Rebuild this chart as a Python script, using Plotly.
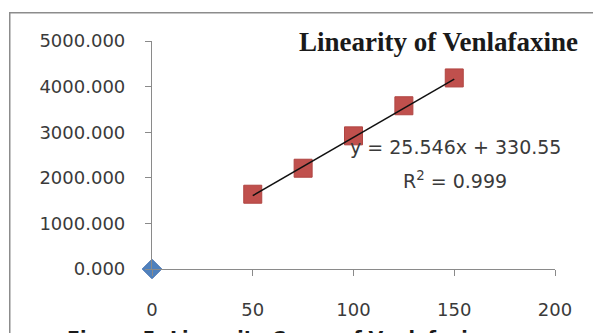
import plotly.graph_objects as go

# ---- data ----
conc = [50, 75, 100, 125, 150]
area = [1640, 2210, 2920, 3580, 4190]
blank_x = [0]
blank_y = [0]
slope = 25.546
intercept = 330.55
x_ticks = [0, 50, 100, 150, 200]
y_ticks = [0, 1000, 2000, 3000, 4000, 5000]
y_tick_labels = ["0.000", "1000.000", "2000.000", "3000.000", "4000.000", "5000.000"]
title_text = "Linearity of Venlafaxine"
eq_text = "y = 25.546x + 330.55"
r2_text = "R<sup>2</sup> = 0.999"
caption_text = "Figure 5: Linearity Curve of Venlafaxine"

trend_x = [min(conc), max(conc)]
trend_y = [slope * v + intercept for v in trend_x]

fig = go.Figure()
fig.add_trace(go.Scatter(x=blank_x, y=blank_y, mode="markers",
                         marker=dict(symbol="diamond", size=15, color="#4F81BD",
                                     line=dict(color="#4672B0", width=1)),
                         cliponaxis=False, showlegend=False))
fig.add_trace(go.Scatter(x=conc, y=area, mode="markers",
                         marker=dict(symbol="square", size=18, color="#C0504D",
                                     line=dict(color="#B04542", width=1)),
                         cliponaxis=False, showlegend=False))
fig.add_trace(go.Scatter(x=trend_x, y=trend_y, mode="lines",
                         line=dict(color="#111111", width=1.5),
                         showlegend=False))

tick_font = dict(family="DejaVu Sans", size=18, color="#3a3a3a")
axis_common = dict(showgrid=False, zeroline=False, showline=True,
                   linecolor="#8a8a8a", linewidth=1.2, ticks="outside",
                   tickcolor="#8a8a8a", ticklen=6, tickwidth=1.2,
                   tickfont=tick_font, automargin=False)

fig.update_xaxes(range=[0, 200], tickvals=x_ticks, ticktext=[str(v) for v in x_ticks],
                 ticklabelstandoff=18, **axis_common)
fig.update_yaxes(range=[0, 5000], tickvals=y_ticks, ticktext=y_tick_labels,
                 ticklabelstandoff=16, **axis_common)

# chart-area border drawn as an empty annotation box (left and top edges visible)
fig.add_annotation(text=" ", x=-0.355, y=1.128, xref="paper", yref="paper",
                   showarrow=False, xanchor="left", yanchor="top",
                   width=640, height=380, borderpad=0,
                   bordercolor="#8c8c8c", borderwidth=1.5)

fig.add_annotation(text="<b>" + title_text + "</b>", x=0.712, y=0.9956,
                   xref="paper", yref="paper", showarrow=False,
                   xanchor="center", yanchor="middle",
                   font=dict(family="Liberation Serif", size=27, color="#1a1a1a"))
fig.add_annotation(text=eq_text, x=0.752, y=0.535, xref="paper", yref="paper",
                   showarrow=False, xanchor="center", yanchor="middle",
                   font=dict(family="DejaVu Sans", size=19, color="#3a3a3a"))
fig.add_annotation(text=r2_text, x=0.752, y=0.39, xref="paper", yref="paper",
                   showarrow=False, xanchor="center", yanchor="middle",
                   font=dict(family="DejaVu Sans", size=19, color="#3a3a3a"))
fig.add_annotation(text="<b>" + caption_text + "</b>", x=0.318, y=-0.245,
                   xref="paper", yref="paper", showarrow=False,
                   xanchor="center", yanchor="top",
                   font=dict(family="DejaVu Sans", size=19, color="#1a1a1a"))

fig.update_layout(width=593, height=333,
                  margin=dict(l=152, r=38, t=41, b=64, autoexpand=False),
                  paper_bgcolor="white", plot_bgcolor="white",
                  showlegend=False)

fig.write_html("out.html", config={"displayModeBar": False},
               post_script="document.body.style.margin='0';document.body.style.overflow='hidden';")
